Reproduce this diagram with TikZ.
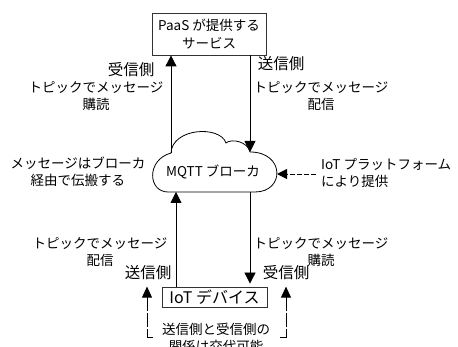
\documentclass[tikz,border=0pt]{standalone}
\usepackage{fontspec}
\setmainfont{Noto Sans CJK JP}
\usetikzlibrary{arrows.meta}
\begin{document}
\begin{tikzpicture}[x=1pt,y=-1pt,
  lbl/.style={font=\fontsize{13.5}{17}\selectfont, align=center, inner sep=0pt},
  side/.style={font=\fontsize{15.5}{18}\selectfont, inner sep=0pt},
  box/.style={draw=black!80, line width=0.8pt, align=center, inner sep=0pt},
  arr/.style={-{Triangle[width=11pt,length=11pt]}, line width=0.8pt},
  darr/.style={-{Triangle[width=10pt,length=10pt]}, line width=0.8pt, dash pattern=on 5pt off 2pt},
  barr/.style={-{Triangle[width=10pt,length=11pt]}, line width=0.8pt, dash pattern=on 14pt off 2pt}]
\useasboundingbox (0,0) rectangle (458,347);
\clip (0,0) rectangle (458,347);
% top box
\node[box, minimum width=114pt, minimum height=42pt, font=\fontsize{13.5}{18}\selectfont] (paas) at (209,34) {PaaS が提供する\\サービス};
% cloud anchor points
\coordinate (cUL) at (171,153);
\coordinate (cUR) at (250,152);
\coordinate (cBL) at (176,192);
\coordinate (cBR) at (250,192);
\coordinate (cR) at (277,174);
\draw[line width=0.8pt] (168,192) .. controls (148,192) and (146,160) .. (cUL)
  .. controls (172,128) and (220,125) .. (226,143)
  .. controls (232,138) and (248,142) .. (cUR)
  .. controls (285,152) and (285,192) .. (255,192) -- cycle;
\node[font=\fontsize{13.5}{16}\selectfont, inner sep=0pt] (mqtt) at (213,172) {MQTT ブローカ};
% bottom box
\node[box, minimum width=105pt, minimum height=20pt, font=\fontsize{16}{18}\selectfont] (dev) at (214.5,297) {IoT デバイス};
% vertical connectors
\draw[arr] (cUL) -- (cUL |- paas.south);
\draw[arr] (cUR |- paas.south) -- (cUR);
\draw[arr] (dev.north -| cBL) -- (cBL);
\draw[arr, shorten >=3pt] (cBR) -- (dev.north -| cBR);
% dashed arrow from right
\coordinate (dstart) at (316,174);
\draw[darr] (dstart) -- (cR);
% labels
\node[side] (r1) at (131,70) {受信側};
\node[side] (s1) at (281,64) {送信側};
\node[lbl] (t1) at (96,96) {トピックでメッセージ\\購読};
\node[lbl] (t2) at (321,96) {トピックでメッセージ\\配信};
\node[lbl] (msg) at (78,172) {メッセージはブローカ\\経由で伝搬する};
\node[lbl, align=left, anchor=west] (plat) at (321,173) {IoT プラットフォーム\\により提供};
\node[lbl] (t3) at (100,252) {トピックでメッセージ\\配信};
\node[lbl] (t4) at (321,252) {トピックでメッセージ\\購読};
\node[side] (s2) at (148,273) {送信側};
\node[side] (r2) at (286,273) {受信側};
\node[lbl] (swap) at (216,338) {送信側と受信側の\\関係は交代可能};
% bracket arrows
\coordinate (bl) at (153,337);
\coordinate (blc) at (147,337);
\coordinate (br) at (280,337);
\coordinate (brc) at (286,337);
\draw[barr] (bl) -- (blc) -- (blc |- dev.north);
\draw[barr] (br) -- (brc) -- (brc |- dev.north);
\end{tikzpicture}
\end{document}
